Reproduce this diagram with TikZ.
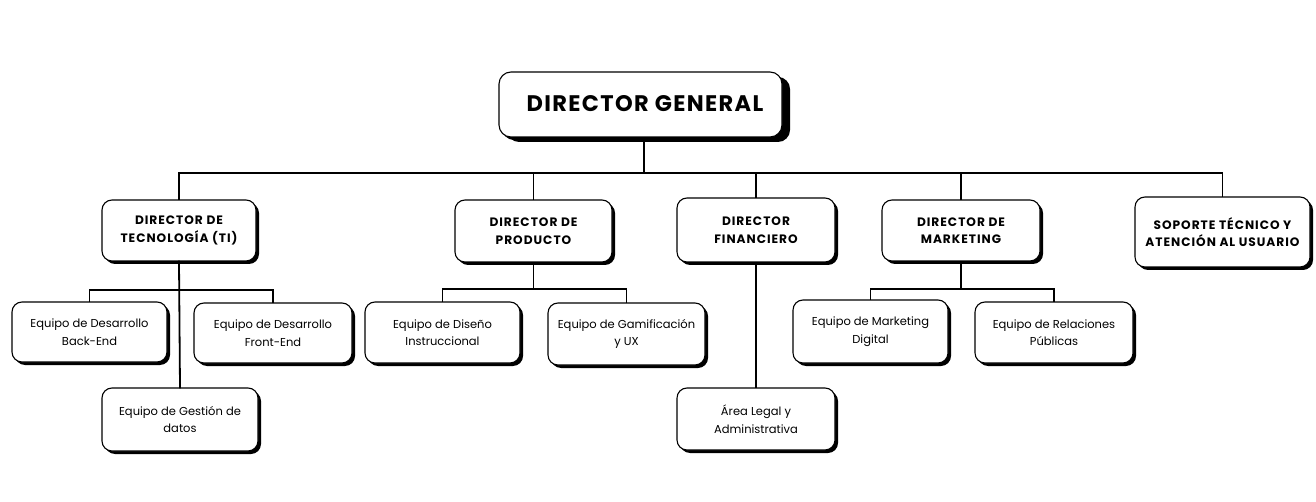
\documentclass[tikz,border=0pt]{standalone}
\usepackage{fontspec}
\setmainfont{Poppins}
\newfontfamily\hdrfont{Poppins}[LetterSpace=8]
\newfontfamily\topfont{Poppins}[LetterSpace=6]
\usetikzlibrary{shadows}
\begin{document}
\begin{tikzpicture}[x=1pt,y=-1pt,
  box/.style={draw=black, line width=1.1pt, fill=white, rounded corners=10pt,
    align=center, inner sep=0pt,
    drop shadow={shadow xshift=3pt, shadow yshift=-3pt, fill=black, opacity=1}},
  head/.style={box, font=\hdrfont\bfseries\fontsize{12.2}{17.5}\selectfont},
  team/.style={box, font=\fontsize{11.5}{17.5}\selectfont},
  conn/.style={line width=1.8pt, line cap=rect}]
\useasboundingbox (0,0) rectangle (1316,502);
% top
\node[box, rounded corners=12pt, minimum width=283pt, minimum height=65pt,
  drop shadow={shadow xshift=8pt, shadow yshift=-5pt, fill=black, opacity=1},
  font=\topfont\bfseries\fontsize{22.5}{26}\selectfont] (dg) at (640.5,104.5) {\raisebox{3pt}{\hspace{9pt}DIRECTOR GENERAL}};
% level 2
\node[head, minimum width=154pt, minimum height=61pt] (ti) at (179,230.5) {DIRECTOR DE\\TECNOLOGÍA (TI)};
\node[head, minimum width=157pt, minimum height=62pt] (prod) at (533.5,231) {DIRECTOR DE\\PRODUCTO};
\node[head, minimum width=158pt, minimum height=64pt] (fin) at (756,230) {DIRECTOR\\FINANCIERO};
\node[head, minimum width=158pt, minimum height=61pt] (mkt) at (961,230.5) {DIRECTOR DE\\MARKETING};
\node[head, minimum width=175pt, minimum height=70pt] (sop) at (1222.5,232) {SOPORTE TÉCNICO Y\\ATENCIÓN AL USUARIO};
% level 3
\node[team, minimum width=155pt, minimum height=60pt] (back) at (89.5,332) {Equipo de Desarrollo\\Back-End};
\node[team, minimum width=158pt, minimum height=60pt] (front) at (273,333) {Equipo de Desarrollo\\Front-End};
\node[team, minimum width=156pt, minimum height=63pt] (gest) at (180,419.5) {Equipo de Gestión de\\datos};
\node[team, minimum width=155pt, minimum height=61pt] (dis) at (442.5,332.5) {Equipo de Diseño\\Instruccional};
\node[team, minimum width=157pt, minimum height=62pt] (gam) at (626.5,334) {Equipo de Gamificación\\y UX};
\node[team, minimum width=158pt, minimum height=62pt] (legal) at (756,419) {Área Legal y\\Administrativa};
\node[team, minimum width=155pt, minimum height=63pt] (mdig) at (870.5,331.5) {Equipo de Marketing\\Digital};
\node[team, minimum width=158pt, minimum height=61pt] (rel) at (1054,332.5) {Equipo de Relaciones\\Públicas};
% buses
\coordinate (bus1) at (644,173);
\coordinate (busti) at (181,290);
\coordinate (busprod) at (535,289);
\coordinate (busmkt) at (963,289);
% connectors level 1
\draw[conn] (dg.south -| bus1) -- (bus1);
\draw[conn] (ti.north) -- (ti.north |- bus1) -- (sop.north |- bus1) -- (sop.north);
\draw[conn] (prod.north |- bus1) -- (prod.north);
\draw[conn] (fin.north |- bus1) -- (fin.north);
\draw[conn] (mkt.north |- bus1) -- (mkt.north);
% TI
\draw[conn] (ti.south) -- (gest.north);
\draw[conn] (back.north) -- (back.north |- busti) -- (front.north |- busti) -- (front.north);
% Producto
\draw[conn] (prod.south) -- (prod.south |- busprod);
\draw[conn] (dis.north) -- (dis.north |- busprod) -- (gam.north |- busprod) -- (gam.north);
% Financiero
\draw[conn] (fin.south) -- (legal.north);
% Marketing
\draw[conn] (mkt.south) -- (mkt.south |- busmkt);
\draw[conn] (mdig.north) -- (mdig.north |- busmkt) -- (rel.north |- busmkt) -- (rel.north);
\end{tikzpicture}
\end{document}
